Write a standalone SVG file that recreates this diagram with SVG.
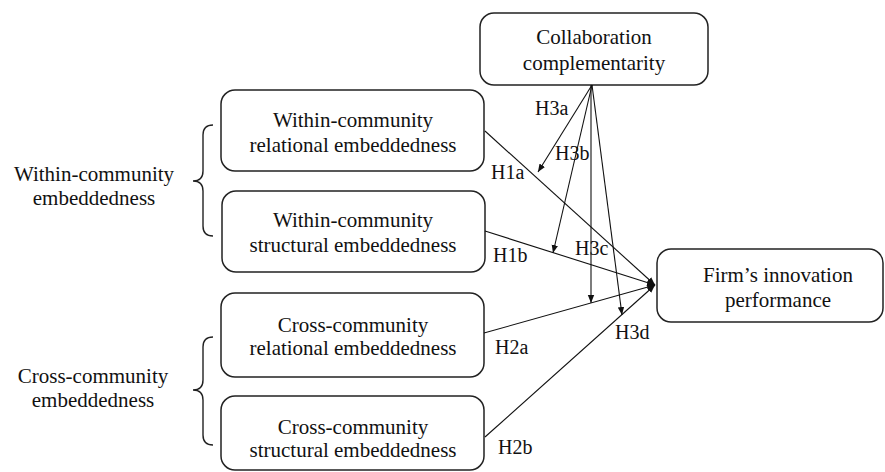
<svg xmlns="http://www.w3.org/2000/svg" width="885" height="472" viewBox="0 0 885 472">
<style>
.box{fill:#fff;stroke:#222;stroke-width:1.5}
.t{font-family:'Liberation Serif','Times New Roman',Times,'DejaVu Serif',serif;font-size:21px;fill:#111;text-anchor:middle}
.lb{font-family:'Liberation Serif','Times New Roman',Times,'DejaVu Serif',serif;font-size:20px;fill:#111}
.ln{stroke:#111;stroke-width:1.1;fill:none}
.br{stroke:#222;stroke-width:1.4;fill:none}
</style>
<defs>
<marker id="ah" viewBox="0 0 10 10" refX="10" refY="5" markerWidth="8" markerHeight="8" markerUnits="userSpaceOnUse" orient="auto">
<path d="M0,1 L10,5 L0,9 Z" fill="#111"/>
</marker>
</defs>
<rect width="885" height="472" fill="#fff"/>

<g id="collab">
<rect class="box" x="480" y="13" width="228" height="72" rx="14"/>
<text class="t" x="594" y="44" font-family="Liberation Serif, serif">Collaboration</text>
<text class="t" x="594" y="70" font-family="Liberation Serif, serif">complementarity</text>
</g>

<g id="wc-rel">
<rect class="box" x="221" y="90" width="263" height="81" rx="14"/>
<text class="t" x="353" y="127">Within-community</text>
<text class="t" x="353" y="152">relational embeddedness</text>
</g>

<g id="wc-str">
<rect class="box" x="222" y="191" width="263" height="81" rx="14"/>
<text class="t" x="353" y="227">Within-community</text>
<text class="t" x="353" y="252">structural embeddedness</text>
</g>

<g id="cc-rel">
<rect class="box" x="221" y="293" width="263" height="84" rx="14"/>
<text class="t" x="353" y="332">Cross-community</text>
<text class="t" x="353" y="355">relational embeddedness</text>
</g>

<g id="cc-str">
<rect class="box" x="221" y="396" width="263" height="74" rx="14"/>
<text class="t" x="353" y="434">Cross-community</text>
<text class="t" x="353" y="457">structural embeddedness</text>
</g>

<g id="firm">
<rect class="box" x="657" y="249" width="226" height="73" rx="14"/>
<text class="t" x="778" y="282">Firm’s innovation</text>
<text class="t" x="778" y="307">performance</text>
</g>

<g id="within-group">
<path class="br" d="M213,125 Q203,125 203,135 L203,171 Q203,181 193,181 Q203,181 203,191 L203,226 Q203,236 213,236"/>
<text class="t" x="94" y="181">Within-community</text>
<text class="t" x="94" y="205">embeddedness</text>
</g>

<g id="cross-group">
<path class="br" d="M213,337 Q203,337 203,347 L203,380 Q203,390 193,390 Q203,390 203,400 L203,435 Q203,445 213,445"/>
<text class="t" x="93" y="383">Cross-community</text>
<text class="t" x="93" y="407">embeddedness</text>
</g>

<g id="connectors">
<line class="ln" x1="485" y1="131" x2="655" y2="285" marker-end="url(#ah)"/>
<line class="ln" x1="485" y1="231" x2="655" y2="285" marker-end="url(#ah)"/>
<line class="ln" x1="484" y1="333" x2="655" y2="285" marker-end="url(#ah)"/>
<line class="ln" x1="485" y1="437" x2="655" y2="285" marker-end="url(#ah)"/>
<line class="ln" x1="592" y1="85" x2="538" y2="172" marker-end="url(#ah)"/>
<line class="ln" x1="592" y1="85" x2="553" y2="253" marker-end="url(#ah)"/>
<line class="ln" x1="591" y1="85" x2="591" y2="303" marker-end="url(#ah)"/>
<line class="ln" x1="592" y1="85" x2="622" y2="315" marker-end="url(#ah)"/>
</g>

<g id="labels">
<text class="lb" x="535" y="115">H3a</text>
<text class="lb" x="555" y="160">H3b</text>
<text class="lb" x="491" y="179">H1a</text>
<text class="lb" x="493" y="262">H1b</text>
<text class="lb" x="575" y="255">H3c</text>
<text class="lb" x="495" y="354">H2a</text>
<text class="lb" x="615" y="339">H3d</text>
<text class="lb" x="498" y="454">H2b</text>
</g>
</svg>
